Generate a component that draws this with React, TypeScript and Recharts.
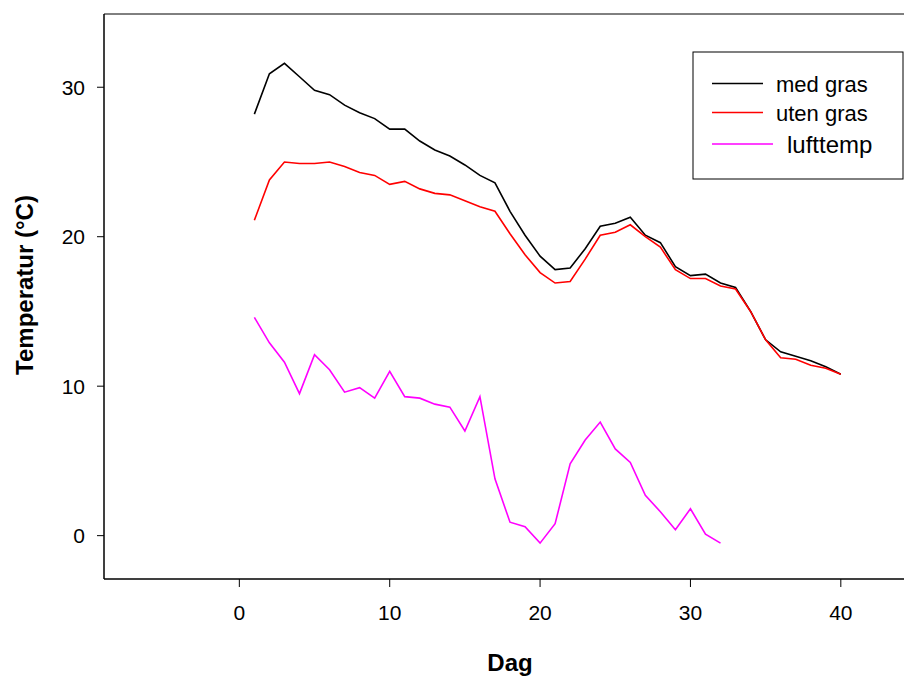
import React from "react";
import { LineChart, Line, XAxis, YAxis, ReferenceArea } from "recharts";

// dag 1..40
const days = [
  1, 2, 3, 4, 5, 6, 7, 8, 9, 10, 11, 12, 13, 14, 15, 16, 17, 18, 19, 20,
  21, 22, 23, 24, 25, 26, 27, 28, 29, 30, 31, 32, 33, 34, 35, 36, 37, 38, 39, 40,
];

const medGras = [
  28.2, 30.9, 31.6, 30.7, 29.8, 29.5, 28.8, 28.3, 27.9, 27.2, 27.2, 26.4, 25.8, 25.4,
  24.8, 24.1, 23.6, 21.7, 20.1, 18.7, 17.8, 17.9, 19.2, 20.7, 20.9, 21.3, 20.1, 19.6,
  18.0, 17.4, 17.5, 16.9, 16.6, 15.0, 13.1, 12.3, 12.0, 11.7, 11.3, 10.8,
];

const utenGras = [
  21.1, 23.8, 25.0, 24.9, 24.9, 25.0, 24.7, 24.3, 24.1, 23.5, 23.7, 23.2, 22.9, 22.8,
  22.4, 22.0, 21.7, 20.2, 18.8, 17.6, 16.9, 17.0, 18.5, 20.1, 20.3, 20.8, 20.0, 19.3,
  17.8, 17.2, 17.2, 16.7, 16.5, 15.0, 13.1, 11.9, 11.8, 11.4, 11.2, 10.8,
];

// lufttemp only measured up to dag 32
const lufttemp = [
  14.6, 12.9, 11.6, 9.5, 12.1, 11.1, 9.6, 9.9, 9.2, 11.0, 9.3, 9.2, 8.8, 8.6, 7.0, 9.3,
  3.8, 0.9, 0.6, -0.5, 0.8, 4.8, 6.4, 7.6, 5.8, 4.9, 2.7, 1.6, 0.4, 1.8, 0.1, -0.5,
];

const xTicks = [0, 10, 20, 30, 40];
const yTicks = [0, 10, 20, 30];
const xDomain = [-9, 45];
const yDomain = [-2.9, 34.9];

const data = days.map((d, i) => ({
  day: d,
  med: medGras[i],
  uten: utenGras[i],
  luft: i < lufttemp.length ? lufttemp[i] : null,
}));

const FONT = '"Liberation Sans", Arial, Helvetica, sans-serif';

export default function App() {
  return (
    <div
      style={{
        position: "absolute",
        left: 0,
        top: 0,
        width: 904,
        height: 680,
        overflow: "hidden",
        background: "#fff",
        fontFamily: FONT,
      }}
    >
      <LineChart
        width={940}
        height={680}
        data={data}
        margin={{ top: 14, right: 24, bottom: 61, left: 24 }}
      >
        <XAxis
          dataKey="day"
          type="number"
          domain={xDomain}
          ticks={xTicks}
          allowDataOverflow
          height={40}
          tickSize={8}
          tickMargin={18}
          axisLine={{ stroke: "#000" }}
          tickLine={{ stroke: "#000" }}
          tick={{ fill: "#000", fontSize: 21, fontFamily: FONT }}
        />
        <YAxis
          type="number"
          domain={yDomain}
          ticks={yTicks}
          allowDataOverflow
          width={80}
          tickSize={7}
          tickMargin={12}
          axisLine={{ stroke: "#000" }}
          tickLine={{ stroke: "#000" }}
          tick={{ fill: "#000", fontSize: 21, fontFamily: FONT }}
        />
        <ReferenceArea
          x1={xDomain[0]}
          x2={xDomain[1]}
          y1={yDomain[0]}
          y2={yDomain[1]}
          fill="none"
          stroke="#000"
          strokeWidth={1}
        />
        <Line dataKey="med" stroke="#000000" strokeWidth={1.6} dot={false} isAnimationActive={false} />
        <Line dataKey="uten" stroke="#ff0000" strokeWidth={1.6} dot={false} isAnimationActive={false} />
        <Line dataKey="luft" stroke="#ff00ff" strokeWidth={1.6} dot={false} isAnimationActive={false} />
      </LineChart>

      {/* axis titles and legend */}
      <svg
        width={904}
        height={680}
        style={{ position: "absolute", left: 0, top: 0, pointerEvents: "none" }}
      >
        <text
          x={510}
          y={671}
          textAnchor="middle"
          fontSize={24}
          fontWeight="bold"
          fontFamily={FONT}
        >
          Dag
        </text>
        <text
          transform="translate(33, 285) rotate(-90)"
          textAnchor="middle"
          fontSize={24}
          fontWeight="bold"
          fontFamily={FONT}
        >
          Temperatur (°C)
        </text>

        <rect x={693} y={52} width={210} height={127} fill="#fff" stroke="#000" strokeWidth={1} />
        <line x1={712} x2={763} y1={83.5} y2={83.5} stroke="#000" strokeWidth={1.6} />
        <text x={776} y={91.5} fontSize={22} fontFamily={FONT}>
          med gras
        </text>
        <line x1={712} x2={763} y1={112.5} y2={112.5} stroke="#ff0000" strokeWidth={1.6} />
        <text x={776} y={121} fontSize={22} fontFamily={FONT}>
          uten gras
        </text>
        <line x1={712} x2={773} y1={144} y2={144} stroke="#ff00ff" strokeWidth={1.6} />
        <text x={787} y={152.5} fontSize={24} fontFamily={FONT}>
          lufttemp
        </text>
      </svg>
    </div>
  );
}
